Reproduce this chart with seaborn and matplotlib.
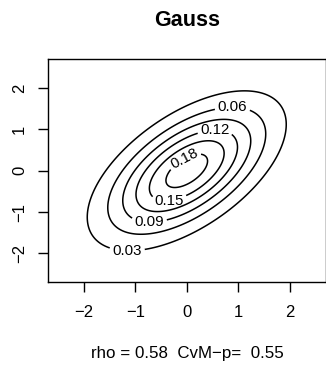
import numpy as np
import matplotlib
matplotlib.use("Agg")
import matplotlib.pyplot as plt
import seaborn as sns

# Gaussian copula with standard normal margins
rho = 0.58
cvm_p = 0.55
levels = [0.03, 0.06, 0.09, 0.12, 0.15, 0.18]
xticks = [-2, -1, 0, 1, 2]
yticks = [-2, -1, 0, 1, 2]
# where each contour label sits (x, y), one per level
label_pos = [(-1.16, -1.935), (0.89, 1.536), (-0.73, -1.245), (0.55, 0.99), (-0.34, -0.72), (-0.05, 0.30)]

sns.set_theme(style="ticks")
plt.rcParams["font.family"] = ["Liberation Sans", "DejaVu Sans"]
plt.rcParams["text.color"] = "black"
plt.rcParams["axes.labelcolor"] = "black"

g = np.linspace(-2.7, 2.7, 401)
X, Y = np.meshgrid(g, g)
det = 1 - rho ** 2
Z = np.exp(-(X ** 2 - 2 * rho * X * Y + Y ** 2) / (2 * det)) / (2 * np.pi * np.sqrt(det))

fig = plt.figure(figsize=(3.26, 3.66), dpi=100)
ax = fig.add_axes([0.1472, 0.2287, 0.8513, 0.6093])
cs = ax.contour(X, Y, Z, levels=levels, colors="black", linewidths=1.1)
ax.clabel(cs, inline=True, inline_spacing=3, fontsize=10.8, fmt="%.2f", manual=label_pos, colors="black")
# only the innermost label follows its contour
for t in cs.labelTexts:
    if t.get_text() != "0.18":
        t.set_rotation(0)

ax.set_xlim(-2.7, 2.7)
ax.set_ylim(-2.7, 2.7)
ax.set_xticks(xticks)
ax.set_yticks(yticks)
ax.set_xticklabels([str(v).replace("-", "\u2212") for v in xticks])
ax.set_yticklabels([str(v).replace("-", "\u2212") for v in yticks], rotation=90, va="center")
ax.tick_params(direction="out", length=7.2, width=1, labelsize=12, color="black", labelcolor="black")
ax.tick_params(axis="x", pad=9.5)
ax.tick_params(axis="y", pad=8)
for s in ax.spines.values():
    s.set_color("black")
    s.set_linewidth(1.0)
ax.grid(False)

fig.text(0.573, 0.929, "Gauss", ha="center", va="baseline", fontsize=15.5, fontweight="bold", color="black")
fig.text(0.575, 0.0219, "rho = %.2f  CvM\u2212p=  %.2f" % (rho, cvm_p), ha="center", va="baseline",
         fontsize=12.2, color="black")

fig.savefig("out.png", dpi=100, facecolor="white")
